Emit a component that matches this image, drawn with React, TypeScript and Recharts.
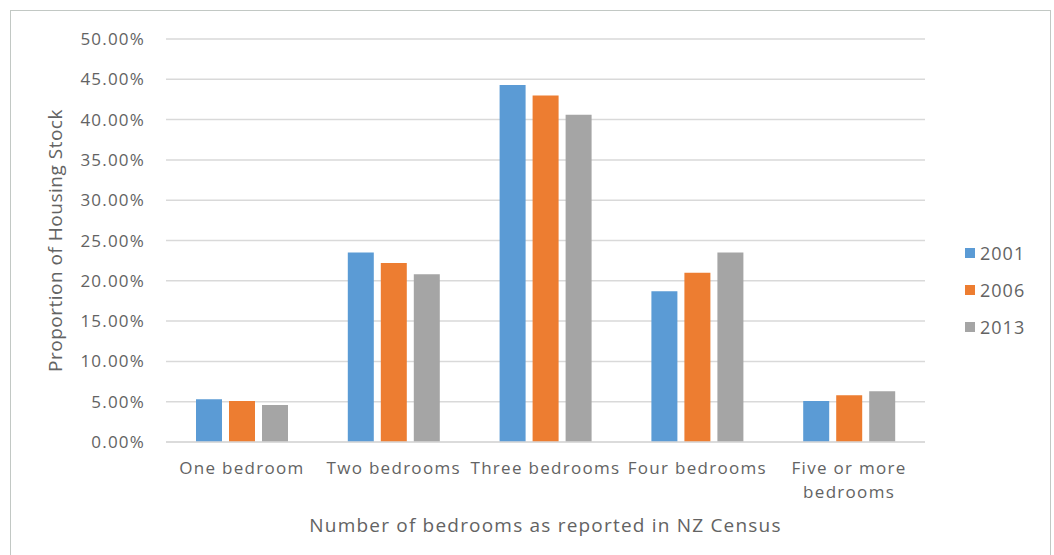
import React from 'react';
import { BarChart, Bar, XAxis, YAxis, CartesianGrid, Legend, Label } from 'recharts';

// Share of housing stock by number of bedrooms, per census year (percent)
const categories = ['One bedroom', 'Two bedrooms', 'Three bedrooms', 'Four bedrooms', 'Five or more\nbedrooms'];
const years = ['2001', '2006', '2013'];
const values2001 = [5.3, 23.5, 44.3, 18.7, 5.1];
const values2006 = [5.1, 22.2, 43.0, 21.0, 5.8];
const values2013 = [4.6, 20.8, 40.6, 23.5, 6.3];
const yTicks = [0, 5, 10, 15, 20, 25, 30, 35, 40, 45, 50];

const colors = ['#5B9BD5', '#ED7D31', '#A5A5A5'];
const FONT = '"Open Sans", "DejaVu Sans", sans-serif';
const TEXT = '#636363';

const data = categories.map((name, i) => ({
  name,
  '2001': values2001[i],
  '2006': values2006[i],
  '2013': values2013[i],
}));

const CategoryTick = (props: any) => {
  const { x, y, payload } = props;
  const lines = String(payload.value).split('\n');
  return (
    <text x={x} y={y} textAnchor="middle" fill={TEXT} fontSize={17} fontFamily={FONT} letterSpacing={1.3}>
      {lines.map((line, i) => (
        <tspan key={i} x={x} dy={i === 0 ? 32 : 24}>
          {line}
        </tspan>
      ))}
    </text>
  );
};

const YTitle = (props: any) => {
  const { viewBox } = props;
  const cx = 55;
  const cy = viewBox.y + viewBox.height / 2;
  return (
    <text
      x={cx}
      y={cy}
      transform={`rotate(-90, ${cx}, ${cy})`}
      textAnchor="middle"
      dominantBaseline="central"
      fill={TEXT}
      fontSize={19}
      fontFamily={FONT}
      letterSpacing={0.5}
    >
      Proportion of Housing Stock
    </text>
  );
};

const XTitle = (props: any) => {
  const { viewBox } = props;
  const cx = viewBox.x + viewBox.width / 2;
  return (
    <text x={cx} y={532} textAnchor="middle" fill={TEXT} fontSize={19} fontFamily={FONT} letterSpacing={1.2}>
      Number of bedrooms as reported in NZ Census
    </text>
  );
};

const LegendBox = () => (
  <div style={{ position: 'absolute', left: 965, top: 234 }}>
    {years.map((year, i) => (
      <div key={year} style={{ display: 'flex', alignItems: 'center', height: 37 }}>
        <span style={{ width: 10, height: 10, background: colors[i], display: 'inline-block', marginRight: 5 }} />
        <span style={{ fontFamily: FONT, fontSize: 18, color: TEXT, letterSpacing: 1 }}>{year}</span>
      </div>
    ))}
  </div>
);

export default function App() {
  return (
    <div style={{ position: 'relative', width: 1054, height: 555, overflow: 'hidden', background: '#fff' }}>
      <style>{'body{margin:0;overflow:hidden}'}</style>
      <div
        style={{
          position: 'absolute',
          left: 10,
          top: 10,
          width: 1041,
          height: 560,
          boxSizing: 'border-box',
          border: '1px solid #c2c8c4',
        }}
      />
      <div style={{ position: 'absolute', left: 0, top: 0 }}>
        <BarChart
          width={1054}
          height={555}
          data={data}
          margin={{ top: 39, right: 129, bottom: 13, left: 66 }}
          barSize={26}
          barGap={7}
        >
          <CartesianGrid vertical={false} stroke="#d9d9d9" strokeWidth={1.5} />
          <XAxis
            dataKey="name"
            height={100}
            tickLine={false}
            tickSize={0}
            tickMargin={0}
            axisLine={{ stroke: '#d9d9d9', strokeWidth: 1.5 }}
            tick={<CategoryTick />}
            interval={0}
          >
            <Label content={<XTitle />} />
          </XAxis>
          <YAxis
            width={100}
            domain={[0, 50]}
            ticks={yTicks}
            tickFormatter={(v: number) => `${v.toFixed(2)}%`}
            axisLine={false}
            tickLine={false}
            tickSize={0}
            tickMargin={21}
            tick={{ fill: TEXT, fontSize: 17, fontFamily: FONT, letterSpacing: 1.2 }}
          >
            <Label content={<YTitle />} />
          </YAxis>
          <Legend content={<LegendBox />} wrapperStyle={{ left: 0, top: 0, width: 0, height: 0 }} />
          {years.map((year, i) => (
            <Bar key={year} dataKey={year} fill={colors[i]} isAnimationActive={false} />
          ))}
        </BarChart>
      </div>
    </div>
  );
}
